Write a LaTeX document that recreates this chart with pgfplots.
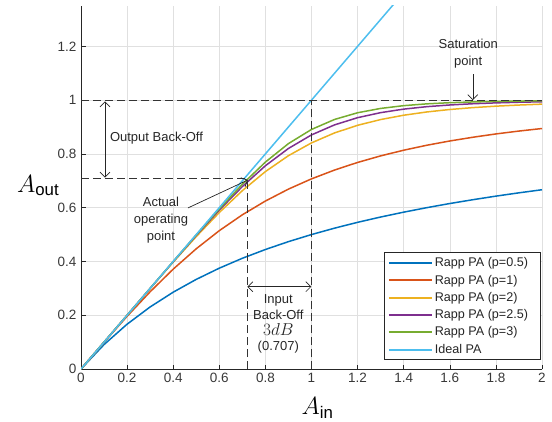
\documentclass[border=0pt]{standalone}
\usepackage{fontspec}
\setmainfont{Liberation Sans}
\usepackage{amsmath}
\usepackage{pgfplots}
\pgfplotsset{compat=1.18}
\usetikzlibrary{arrows.meta}
\definecolor{c1}{rgb}{0,0.447,0.741}
\definecolor{c2}{rgb}{0.85,0.325,0.098}
\definecolor{c3}{rgb}{0.929,0.694,0.125}
\definecolor{c4}{rgb}{0.494,0.184,0.556}
\definecolor{c5}{rgb}{0.466,0.674,0.188}
\definecolor{c6}{rgb}{0.301,0.745,0.933}
\definecolor{axc}{rgb}{0.15,0.15,0.15}
\begin{document}
\begin{tikzpicture}
\begin{axis}[
  at={(81pt,52pt)}, anchor=south west,
  scale only axis, width=461pt, height=363pt,
  xmin=0, xmax=2, ymin=0, ymax=1.35,
  axis x line=bottom, axis y line=left,
  axis line style={-, axc, line width=0.6pt},
  xtick={0,0.2,...,2.01}, ytick={0,0.2,...,1.21},
  tick align=inside, major tick length=4.5pt,
  tick style={axc, line width=0.6pt},
  grid=major, grid style={black!12, line width=0.5pt},
  /pgf/number format/assume math mode=true,
  ticklabel style={font=\fontsize{13.5}{15}\selectfont, text=black!78},
  xticklabel style={yshift=-1pt},
  yticklabel style={xshift=-1pt},
  xlabel={\fontsize{24}{26}\selectfont$A_{\text{in}}$},
  xlabel style={at={(axis description cs:0.513,-0.108)}, anchor=center},
  ylabel={\fontsize{24}{26}\selectfont$A_{\text{out}}$},
  ylabel style={rotate=-90, at={(axis description cs:-0.093,0.505)}, anchor=center},
  legend cell align=left,
  legend style={at={(0.998,0.025)}, anchor=south east, draw=axc, line width=0.6pt,
    font=\fontsize{12.6}{14}\selectfont, text=axc, inner xsep=3pt, inner ysep=2.8pt, row sep=2.7pt},
  legend image code/.code={\draw[#1, line width=2pt] (0pt,0pt) -- (43pt,0pt);},
]
\addplot[c1, line width=1.5pt] coordinates {(0,0) (0.1,0.0909) (0.2,0.1667) (0.3,0.2308) (0.4,0.2857) (0.5,0.3333) (0.6,0.375) (0.7,0.4118) (0.8,0.4444) (0.9,0.4737) (1.0,0.5) (1.1,0.5238) (1.2,0.5455) (1.3,0.5652) (1.4,0.5833) (1.5,0.6) (1.6,0.6154) (1.7,0.6296) (1.8,0.6429) (1.9,0.6552) (2.0,0.6667)};
\addlegendentry{\makebox[101pt][l]{Rapp PA (p=0.5)}}
\addplot[c2, line width=1.5pt] coordinates {(0,0) (0.1,0.0995) (0.2,0.1961) (0.3,0.2873) (0.4,0.3714) (0.5,0.4472) (0.6,0.5145) (0.7,0.5735) (0.8,0.6247) (0.9,0.6690) (1.0,0.7071) (1.1,0.7399) (1.2,0.7682) (1.3,0.7926) (1.4,0.8137) (1.5,0.8321) (1.6,0.8480) (1.7,0.8619) (1.8,0.8742) (1.9,0.8849) (2.0,0.8944)};
\addlegendentry{Rapp PA (p=1)}
\addplot[c3, line width=1.5pt] coordinates {(0,0) (0.1,0.1) (0.2,0.1999) (0.3,0.2994) (0.4,0.3975) (0.5,0.4925) (0.6,0.5820) (0.7,0.6633) (0.8,0.7342) (0.9,0.7934) (1.0,0.8409) (1.1,0.8780) (1.2,0.9063) (1.3,0.9277) (1.4,0.9438) (1.5,0.9559) (1.6,0.9651) (1.7,0.9721) (1.8,0.9775) (1.9,0.9817) (2.0,0.9850)};
\addlegendentry{Rapp PA (p=2)}
\addplot[c4, line width=1.5pt] coordinates {(0,0) (0.1,0.1) (0.2,0.2) (0.3,0.2999) (0.4,0.3992) (0.5,0.4969) (0.6,0.5911) (0.7,0.6786) (0.8,0.7559) (0.9,0.8202) (1.0,0.8706) (1.1,0.9079) (1.2,0.9347) (1.3,0.9534) (1.4,0.9665) (1.5,0.9756) (1.6,0.9819) (1.7,0.9865) (1.8,0.9897) (1.9,0.9921) (2.0,0.9938)};
\addlegendentry{Rapp PA (p=2.5)}
\addplot[c5, line width=1.5pt] coordinates {(0,0) (0.1,0.1) (0.2,0.2) (0.3,0.3) (0.4,0.3997) (0.5,0.4987) (0.6,0.5955) (0.7,0.6871) (0.8,0.7695) (0.9,0.8383) (1.0,0.8909) (1.1,0.9281) (1.2,0.9530) (1.3,0.9691) (1.4,0.9794) (1.5,0.9861) (1.6,0.9904) (1.7,0.9932) (1.8,0.9952) (1.9,0.9965) (2.0,0.9974)};
\addlegendentry{Rapp PA (p=3)}
\addplot[c6, line width=1.5pt] coordinates {(0,0) (2,2)};
\addlegendentry{Ideal PA}
% dashed guides
\draw[black!80, line width=0.9pt, dash pattern=on 8pt off 4pt] (axis cs:0,1) -- (axis cs:2,1);
\draw[black!80, line width=0.9pt, dash pattern=on 8pt off 4pt] (axis cs:1,0) -- (axis cs:1,1);
\draw[black!80, line width=0.9pt, dash pattern=on 8pt off 4pt] (axis cs:0,0.707) -- (axis cs:0.72,0.707);
\draw[black!80, line width=0.9pt, dash pattern=on 8pt off 4pt] (axis cs:0.72,0) -- (axis cs:0.72,0.707);
% arrows
\draw[axc, line width=0.7pt, {Straight Barb[length=5pt,width=10pt]}-{Straight Barb[length=5pt,width=10pt]}] (axis cs:0.104,0.712) -- (axis cs:0.104,0.995);
\draw[axc, line width=0.7pt, {Straight Barb[length=5pt,width=10pt]}-{Straight Barb[length=5pt,width=10pt]}] (axis cs:0.722,0.306) -- (axis cs:0.999,0.306);
\draw[axc, line width=0.7pt, -{Straight Barb[length=5pt,width=10pt]}] (axis cs:1.70,1.097) -- (axis cs:1.70,1.0);
\draw[axc, line width=0.7pt, -{Straight Barb[length=5pt,width=10pt]}] (axis cs:0.464,0.599) -- (axis cs:0.724,0.703);
% texts
\node[anchor=west, text=axc, font=\fontsize{13}{15}\selectfont, inner sep=0pt] at (axis cs:0.125,0.857) {Output Back-Off};
\node[align=center, text=axc, font=\fontsize{13}{17}\selectfont] at (axis cs:0.347,0.554) {Actual\\operating\\point};
\node[align=center, text=axc, font=\fontsize{13}{17}\selectfont] at (axis cs:1.68,1.172) {Saturation\\point};
\node[text=axc, font=\fontsize{13}{15}\selectfont] at (axis cs:0.856,0.254) {Input};
\node[text=axc, font=\fontsize{13}{15}\selectfont] at (axis cs:0.856,0.200) {Back-Off};
\node[text=axc, font=\fontsize{18}{20}\selectfont] at (axis cs:0.856,0.147) {$3dB$};
\node[text=axc, font=\fontsize{13}{15}\selectfont] at (axis cs:0.856,0.083) {(0.707)};
\end{axis}
\pgfresetboundingbox
\path (0pt,0pt) rectangle (552pt,421pt);
\end{tikzpicture}
\end{document}
